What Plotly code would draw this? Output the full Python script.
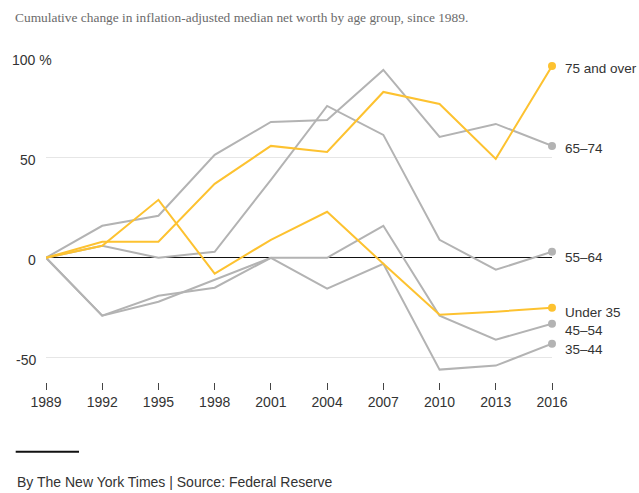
import plotly.graph_objects as go

# ---- data ----
years = [1989, 1992, 1995, 1998, 2001, 2004, 2007, 2010, 2013, 2016]
s_75_over = [0, 8, 8, 37, 56, 53, 83, 77, 49.5, 96]
s_65_74 = [0, 16, 21, 51.5, 68, 69, 94, 60.5, 67, 56]
s_55_64 = [0, 6, 0, 3, 39, 76, 61.5, 9, -6, 3]
s_under_35 = [0, 6, 29, -8, 9, 23, -3, -28.5, -27, -25]
s_45_54 = [0, -29, -19, -15, 0, 0, 16, -29, -41, -33]
s_35_44 = [0, -29, -22, -11, 0, -15.5, -3, -56, -54, -43]

series_names = ["45–54", "35–44", "55–64", "65–74", "Under 35", "75 and over"]
series_values = [s_45_54, s_35_44, s_55_64, s_65_74, s_under_35, s_75_over]

y_tick_vals = [-50, 0, 50, 100]
y_tick_text = ["-50", "0", "50", "100 %"]

title_text = "Cumulative change in inflation-adjusted median net worth by age group, since 1989."
source_text = "By The New York Times | Source: Federal Reserve"

# ---- styling ----
W, H = 639, 493
ML, MR, MT, MB = 46, 87, 57, 111
PW, PH = W - ML - MR, H - MT - MB
YELLOW = "#FDC230"
GRAY = "#B3B3B3"
TXT = "#333333"
FONT = "Liberation Sans, Arial, sans-serif"

colors = {"45–54": GRAY, "35–44": GRAY, "55–64": GRAY, "65–74": GRAY,
          "Under 35": YELLOW, "75 and over": YELLOW}
label_yshift = {"75 and over": -2.3, "65–74": -2.6, "55–64": -5.3,
                "Under 35": -4.4, "45–54": -7, "35–44": -6.3}


def px_x(px):
    return (px - ML) / PW


def px_y(py):
    return (MT + PH - py) / PH


fig = go.Figure()
for name, vals in zip(series_names, series_values):
    c = colors[name]
    fig.add_trace(go.Scatter(x=years, y=vals, mode="lines", name=name,
                             line=dict(color=c, width=2), hoverinfo="skip",
                             cliponaxis=False))
    fig.add_trace(go.Scatter(x=[years[-1]], y=[vals[-1]], mode="markers",
                             marker=dict(color=c, size=8), hoverinfo="skip",
                             cliponaxis=False))

annotations = []
for name, vals in zip(series_names, series_values):
    annotations.append(dict(x=years[-1], y=vals[-1], xref="x", yref="y",
                            text=name, showarrow=False, xanchor="left",
                            yanchor="middle", xshift=11,
                            yshift=label_yshift[name],
                            font=dict(family=FONT, size=13.5, color=TXT)))

for v, t in zip(y_tick_vals, y_tick_text):
    if "%" in t:
        annotations.append(dict(x=0, y=v, xref="paper", yref="y", text=t,
                                showarrow=False, xanchor="right", yanchor="middle",
                                xshift=8, yshift=-2, bgcolor="white", borderpad=1,
                                font=dict(family=FONT, size=14, color=TXT)))
    else:
        annotations.append(dict(x=0, y=v, xref="paper", yref="y", text=t,
                                showarrow=False, xanchor="right", yanchor="middle",
                                xshift=-8, yshift=-2,
                                font=dict(family=FONT, size=14, color=TXT)))

annotations.append(dict(x=px_x(13), y=px_y(17), xref="paper", yref="paper",
                        text=title_text, showarrow=False, xanchor="left",
                        yanchor="middle",
                        font=dict(family="Liberation Serif, Georgia, serif",
                                  size=13.4, color="#6b6b6b")))
annotations.append(dict(x=px_x(15), y=px_y(481.5), xref="paper", yref="paper",
                        text=source_text, showarrow=False, xanchor="left",
                        yanchor="middle",
                        font=dict(family=FONT, size=14, color=TXT)))

fig.add_shape(type="line", xref="paper", yref="paper",
              x0=px_x(15.7), x1=px_x(79), y0=px_y(451.7), y1=px_y(451.7),
              line=dict(color="#111111", width=2))

fig.update_layout(
    width=W, height=H,
    margin=dict(l=ML, r=MR, t=MT, b=MB, pad=0),
    paper_bgcolor="white", plot_bgcolor="white",
    showlegend=False,
    annotations=annotations,
    xaxis=dict(range=[1989, 2016], tickvals=years, ticks="outside", ticklen=7,
               tickwidth=1.3, tickcolor="#444444", showgrid=False, zeroline=False,
               showline=False, tickfont=dict(family=FONT, size=14, color=TXT),
               fixedrange=True),
    yaxis=dict(range=[-62.2, 100.5], tickvals=y_tick_vals, showticklabels=False,
               showgrid=True, gridcolor="#E6E6E6", gridwidth=1.3,
               zeroline=True, zerolinecolor="#111111", zerolinewidth=1,
               showline=False, fixedrange=True),
)

fig.write_html("out.html", config={"displayModeBar": False},
               post_script="document.body.style.margin='0px';document.body.style.overflow='hidden';")
